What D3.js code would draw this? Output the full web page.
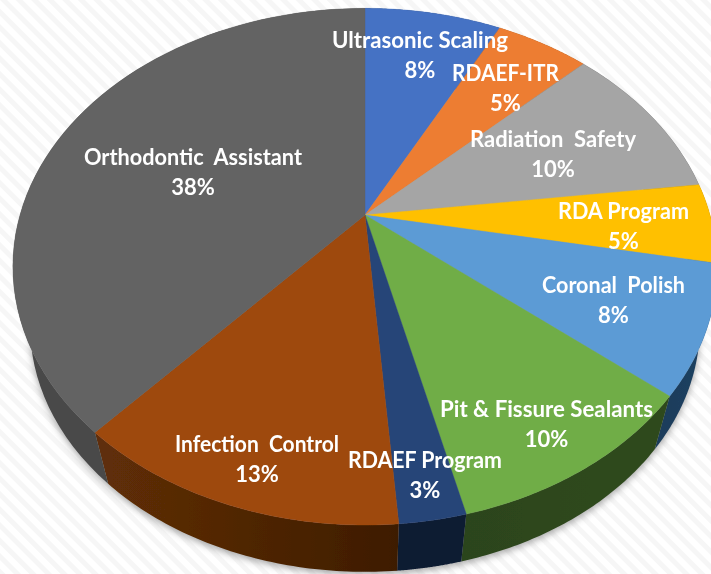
<!DOCTYPE html>
<html>
<head>
<meta charset="utf-8">
<script src="https://cdn.jsdelivr.net/npm/d3@7/dist/d3.min.js"></script>
<style>
html,body{margin:0;padding:0;background:#fff;overflow:hidden}
text{font-family:Lato,"Open Sans",sans-serif;font-weight:700;fill:#fff;white-space:pre;text-anchor:middle}
</style>
</head>
<body>
<svg id="c" width="711" height="574"></svg>
<script>
// Data (shares in percent; labels show them rounded)
const categories = ["Ultrasonic Scaling","RDAEF-ITR","Radiation  Safety","RDA Program","Coronal  Polish","Pit & Fissure Sealants","RDAEF Program","Infection  Control","Orthodontic  Assistant"];
const shares = [7.6,5.2,10.2,5,8,10.2,2.55,12.85,38.4];

// Styles and layout
const topColors = ["#4472c4","#ed7d31","#a5a5a5","#ffc000","#5b9bd5","#70ad47","#264478","#9e480e","#636363"];
const wallLeft  = ["#223963","#773e18","#535353","#806000","#1c3c5a","#2c441b","#0d1b33","#5f2e07","#484848"];
const wallRight = ["#223963","#773e18","#535353","#806000","#1f4060","#2f4a1e","#0d1b33","#3e1c02","#484848"];
const labelAnchors = [[420,40],[505.5,73],[553,139],[623.5,211],[613.5,285],[546.5,409],[425,460],[257,444],[193,157]];
const labelWidths = [176,107,166,131,143,213,154,164,218];
const W = 711, H = 574, cx = 365, cy = 215, A = 345, B = 248, P = 0.2;
const wallScale = 0.951, wallDrop = 62, lineGap = 30.5, fontSize = 22, pctSize = 22;

const svg = d3.select("#c");
const defs = svg.append("defs");
const pat = defs.append("pattern").attr("id","stripes").attr("width",11).attr("height",11)
  .attr("patternUnits","userSpaceOnUse").attr("patternTransform","rotate(-45)");
pat.append("rect").attr("width",11).attr("height",11).attr("fill","#ffffff");
pat.append("rect").attr("width",5).attr("height",11).attr("fill","#f6f6f6");
const blur = defs.append("filter").attr("id","soft").attr("x","-10%").attr("y","-10%").attr("width","120%").attr("height","120%");
blur.append("feGaussianBlur").attr("stdDeviation",3.5);
const soft = defs.append("filter").attr("id","edge").attr("x","-2%").attr("y","-2%").attr("width","104%").attr("height","104%");
soft.append("feGaussianBlur").attr("stdDeviation",0.45);
svg.append("rect").attr("width",W).attr("height",H).attr("fill","url(#stripes)");

// Perspective projection of the unit disc through D3 scales
const xScale = d3.scaleLinear().domain([-1,1]).range([cx-A,cx+A]);
const yScale = d3.scaleLinear().domain([-1,1]).range([cy-B,cy+B]);
const project = (a,r=1) => {
  const u = r*Math.sin(a), v = -r*Math.cos(a), w = 1-P*v;
  return [xScale(u/w), yScale(v/w)];
};
const lower = ([x,y]) => [cx+(x-cx)*wallScale, cy+(y-cy)*wallScale+wallDrop];
const arcs = d3.pie().sort(null).value(d=>d)(shares);
const line = d3.line();
const sample = d => d3.range(0,1.0001,1/60).map(t=>d.startAngle+(d.endAngle-d.startAngle)*t);

// Soft shadow under the pie
const whole = d3.range(0,1.0001,1/240).map(t=>t*2*Math.PI);
svg.append("path").attr("d",line(whole.map(a=>lower(project(a)))))
  .attr("transform","translate(0,3)").attr("fill","#555").attr("opacity",.5).attr("filter","url(#soft)");

// Outer walls
arcs.forEach((d,i)=>{
  const s = lower(project(d.startAngle)), e = lower(project(d.endAngle));
  const g = defs.append("linearGradient").attr("id","w"+i).attr("gradientUnits","userSpaceOnUse")
    .attr("x1",Math.min(s[0],e[0])).attr("x2",Math.max(s[0],e[0])).attr("y1",0).attr("y2",0);
  g.append("stop").attr("offset",0).attr("stop-color",wallLeft[i]);
  g.append("stop").attr("offset",1).attr("stop-color",wallRight[i]);
});
const pie3d = svg.append("g").attr("filter","url(#edge)");
pie3d.append("g").selectAll("path").data(arcs).join("path")
  .attr("d",d=>{
    const as = sample(d), t = as.map(a=>project(a)), b = as.map(a=>lower(project(a))).reverse();
    return line(t.concat(b))+"Z";
  })
  .attr("fill",(d,i)=>`url(#w${i})`);

// Top face
pie3d.append("g").selectAll("path").data(arcs).join("path")
  .attr("d",d=>line([[cx,cy]].concat(sample(d).map(a=>project(a))))+"Z")
  .attr("fill",(d,i)=>topColors[i])
  .attr("stroke",(d,i)=>topColors[i]).attr("stroke-width",.4);

// Labels
const lab = svg.append("g").attr("filter","url(#edge)").selectAll("g").data(categories).join("g")
  .attr("transform",(d,i)=>`translate(${labelAnchors[i][0]},${labelAnchors[i][1]})`);
lab.append("text").attr("font-size",fontSize).attr("dy","0.35em")
  .attr("textLength",(d,i)=>labelWidths[i]).attr("lengthAdjust","spacingAndGlyphs").text(d=>d);
lab.append("text").attr("font-size",pctSize).attr("y",lineGap).attr("dy","0.35em").text((d,i)=>Math.round(shares[i])+"%");
</script>
</body>
</html>
